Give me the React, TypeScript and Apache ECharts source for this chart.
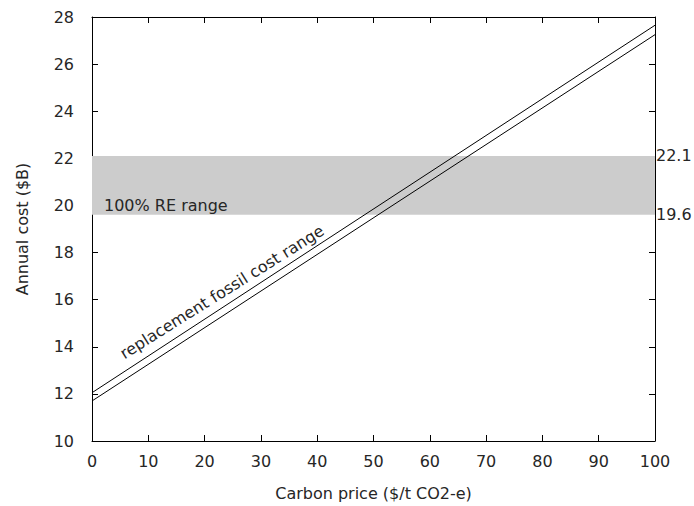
import React, { useEffect, useRef } from "react";
import * as echarts from "echarts";

const xRange = [0, 100];
const upperFossil = [12.05, 27.65];
const lowerFossil = [11.7, 27.25];
const reRange = [19.6, 22.1];
const xTickInterval = 10;
const yTickInterval = 2;
const yRange = [10, 28];

const FONT = "DejaVu Sans";
const TEXT = "#262626";
const FS = 16;

export default function App() {
  const ref = useRef<HTMLDivElement>(null);
  useEffect(() => {
    if (!ref.current) return;
    const chart = echarts.init(ref.current, null, { renderer: "svg" });
    const axisCommon = {
      axisLine: { show: true, onZero: false, lineStyle: { color: "#000", width: 1 } },
      axisTick: { show: true, inside: true, length: 6, lineStyle: { color: "#000" } },
      splitLine: { show: false },
    };
    chart.setOption({
      animation: false,
      backgroundColor: "#fff",
      textStyle: { fontFamily: FONT },
      grid: { left: 92, right: 39, top: 17, bottom: 64.5, containLabel: false },
      xAxis: [
        {
          type: "value",
          min: xRange[0],
          max: xRange[1],
          interval: xTickInterval,
          position: "bottom",
          name: "Carbon price ($/t CO2-e)",
          nameLocation: "middle",
          nameGap: 44,
          nameTextStyle: { color: TEXT, fontSize: FS, fontFamily: FONT },
          axisLabel: { color: TEXT, fontSize: FS, margin: 12, fontFamily: FONT },
          ...axisCommon,
        },
        {
          type: "value",
          min: xRange[0],
          max: xRange[1],
          interval: xTickInterval,
          position: "top",
          axisLabel: { show: false },
          ...axisCommon,
        },
      ],
      yAxis: [
        {
          type: "value",
          min: yRange[0],
          max: yRange[1],
          interval: yTickInterval,
          position: "left",
          name: "Annual cost ($B)",
          nameLocation: "middle",
          nameGap: 62,
          nameTextStyle: { color: TEXT, fontSize: FS, fontFamily: FONT },
          axisLabel: { color: TEXT, fontSize: FS, margin: 18, fontFamily: FONT },
          ...axisCommon,
        },
        {
          type: "value",
          min: yRange[0],
          max: yRange[1],
          interval: yTickInterval,
          position: "right",
          axisLabel: { show: false },
          ...axisCommon,
        },
      ],
      series: [
        {
          type: "line",
          name: "band",
          data: [],
          silent: true,
          markArea: {
            silent: true,
            itemStyle: { color: "#cccccc" },
            data: [[{ yAxis: reRange[0] }, { yAxis: reRange[1] }]],
          },
          markLine: {
            silent: true,
            symbol: ["none", "none"],
            lineStyle: { color: "transparent", width: 0 },
            label: {
              show: true,
              position: "end",
              distance: 1,
              color: TEXT,
              fontSize: FS,
              fontFamily: FONT,
              formatter: (p: any) => String(p.value),
            },
            data: reRange.map((v) => ({ yAxis: v })),
          },
        },
        {
          type: "line",
          name: "upper",
          showSymbol: false,
          symbol: "none",
          lineStyle: { color: "#000", width: 1 },
          data: xRange.map((x, i) => [x, upperFossil[i]]),
        },
        {
          type: "line",
          name: "lower",
          showSymbol: false,
          symbol: "none",
          lineStyle: { color: "#000", width: 1 },
          data: xRange.map((x, i) => [x, lowerFossil[i]]),
        },
      ],
      graphic: [
        {
          type: "text",
          x: 104,
          y: 205,
          z: 100,
          style: {
            text: "100% RE range",
            fill: TEXT,
            fontSize: FS,
            fontFamily: FONT,
            align: "left",
            verticalAlign: "middle",
          },
        },
        {
          type: "text",
          x: 222,
          y: 292,
          z: 100,
          rotation: (32 * Math.PI) / 180,
          style: {
            text: "replacement fossil cost range",
            fill: TEXT,
            fontSize: FS,
            fontFamily: FONT,
            align: "center",
            verticalAlign: "middle",
          },
        },
      ],
    });
    return () => chart.dispose();
  }, []);
  return (
    <div
      ref={ref}
      style={{ position: "fixed", left: 0, top: 0, width: 694, height: 506, background: "#fff" }}
    />
  );
}
